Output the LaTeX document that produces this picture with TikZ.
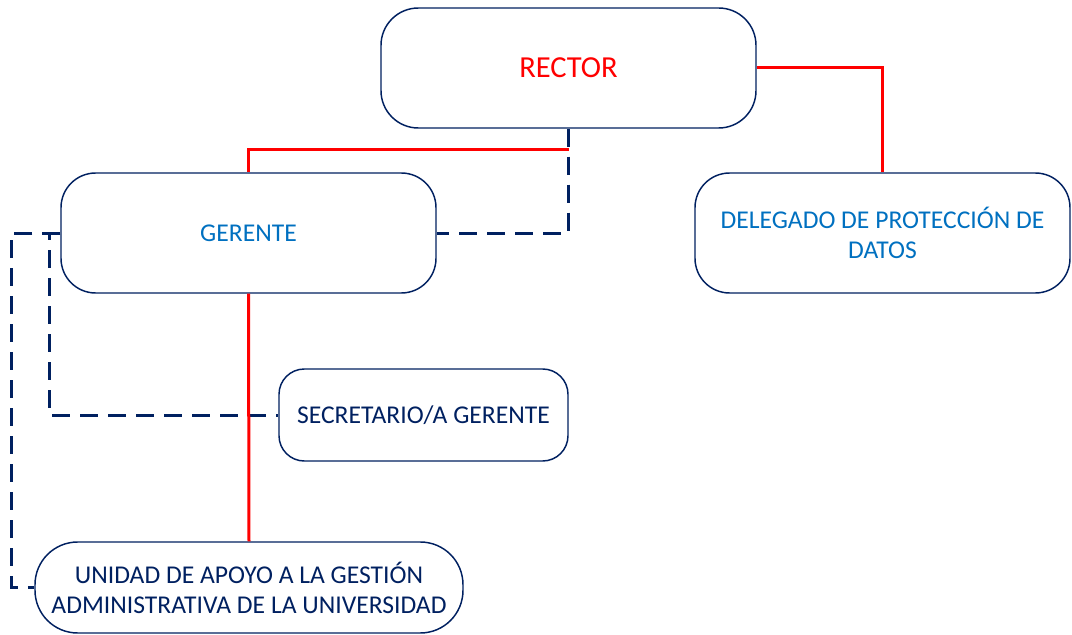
\documentclass[tikz,border=0pt]{standalone}
\usepackage{fontspec}
\setmainfont{Carlito}
\definecolor{navy}{HTML}{002060}
\definecolor{lblue}{HTML}{0070C0}
\definecolor{lred}{HTML}{FF0000}
\begin{document}
\begin{tikzpicture}[x=0.75pt,y=-0.75pt,
  box/.style={draw=navy,line width=1.1pt,align=center,inner sep=0pt},
  redline/.style={draw=lred,line width=2.25pt},
  dashline/.style={draw=navy,line width=2.25pt,dash pattern=on 13.5pt off 7.5pt},
  txt/.style={font=\fontsize{19.2}{22.5}\selectfont}]
\useasboundingbox (0,0) rectangle (1072,635);
\node[box,minimum width=281.25pt,minimum height=90pt,rounded corners=28pt,text=lred,font=\fontsize{22.9}{26}\selectfont] (R) at (568.5,68) {RECTOR};
\node[box,txt,minimum width=281.25pt,minimum height=90pt,rounded corners=26pt,text=lblue] (G) at (248.5,233) {GERENTE};
\node[box,txt,minimum width=281.25pt,minimum height=90pt,rounded corners=26pt,text=lblue] (D) at (882.5,233) {DELEGADO DE PROTECCIÓN DE\\DATOS};
\node[box,txt,minimum width=216.75pt,minimum height=69pt,rounded corners=19pt,text=navy] (S) at (423.5,415) {SECRETARIO/A GERENTE};
\node[box,txt,minimum width=321pt,minimum height=68.25pt,rounded corners=32pt,text=navy] (U) at (249,587.5) {UNIDAD DE APOYO A LA GESTIÓN\\ADMINISTRATIVA DE LA UNIVERSIDAD};
% dashed connectors
\draw[dashline] (R.south) -- (R.south |- G.east) -- (G.east);
\draw[dashline] (G.west) -- ++(-11,0) |- (S.west);
\draw[dashline] (G.west) -- ++(-49,0) |- (U.west);
% red connectors
\draw[redline] (R.east) -| (D.north);
\draw[redline] (R.south |- 0,150) -| (G.north);
\draw[redline] (G.south) -- (U.north);
\end{tikzpicture}
\end{document}
